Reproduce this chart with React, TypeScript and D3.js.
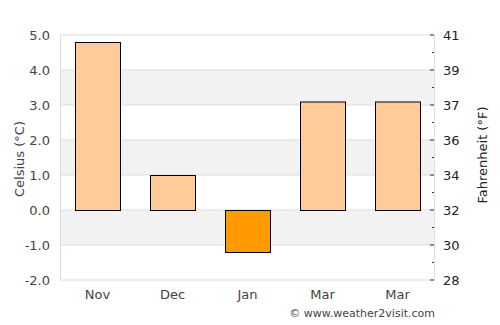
import * as d3 from 'd3'

const months = ['Nov', 'Dec', 'Jan', 'Mar', 'Mar']
const celsius = [4.8, 1.0, -1.2, 3.1, 3.1]
const barColors = ['#ffcc99', '#ffcc99', '#ff9900', '#ffcc99', '#ffcc99']
const cTicks = [-2, -1, 0, 1, 2, 3, 4, 5]
const fLabels = ['28', '30', '32', '34', '36', '37', '39', '41']
const shadedBands = [[-1, 0], [1, 2], [3, 4]]

const margin = { top: 35, right: 65, bottom: 45, left: 60 }
const width = 500
const height = 325

export default function App() {
  const innerW = width - margin.left - margin.right
  const innerH = height - margin.top - margin.bottom

  const x = d3.scaleBand<number>()
    .domain(d3.range(months.length))
    .range([0, innerW])
    .paddingInner(0.4)
    .paddingOuter(0.2)

  const y = d3.scaleLinear().domain([-2, 5]).range([innerH, 0])

  const font = 'DejaVu Sans, sans-serif'
  const minor = d3.range(-1.5, 5, 1)

  return (
    <svg width={width} height={height} style={{ position: 'absolute', left: 0, top: 0 }}>
      <rect width={width} height={height} fill="#fff" />
      <g transform={`translate(${margin.left},${margin.top})`}>
        {/* alternating bands */}
        {shadedBands.map(([a, b]) => (
          <rect key={'g' + a} x={0} width={innerW} y={y(b)} height={y(a) - y(b)} fill="#f2f2f2" />
        ))}
        {cTicks.map(t => (
          <line key={'l' + t} x1={0} x2={innerW} y1={y(t)} y2={y(t)} stroke="#dddddd" />
        ))}
        <line x1={0.5} x2={0.5} y1={0} y2={innerH} stroke="#dddddd" />
        <line x1={innerW - 0.5} x2={innerW - 0.5} y1={0} y2={innerH} stroke="#dddddd" />

        {celsius.map((v, i) => (
          <rect key={'bar' + i}
            x={x(i)! + 0.5}
            y={Math.min(y(v), y(0)) + 0.5}
            width={x.bandwidth()}
            height={Math.abs(y(v) - y(0))}
            fill={barColors[i]} stroke="#000" strokeWidth={1} />
        ))}

        {/* left axis labels */}
        {cTicks.map(t => (
          <text key={'c' + t} x={-10} y={y(t)} dy="0.35em" textAnchor="end"
            fontFamily={font} fontSize={13} fill="#444">{t.toFixed(1)}</text>
        ))}
        {/* right axis ticks and labels */}
        {cTicks.map((t, i) => (
          <g key={'f' + t}>
            <line x1={innerW - 5} x2={innerW - 1} y1={y(t)} y2={y(t)} stroke="#333" />
            <text x={innerW + 8} y={y(t)} dy="0.35em" textAnchor="start"
              fontFamily={font} fontSize={13} fill="#222">{fLabels[i]}</text>
          </g>
        ))}
        {minor.map(t => (
          <line key={'m' + t} x1={innerW - 3} x2={innerW - 1} y1={y(t)} y2={y(t)} stroke="#333" />
        ))}

        {months.map((m, i) => (
          <text key={'x' + i} x={x(i)! + x.bandwidth() / 2} y={innerH + 19} textAnchor="middle"
            fontFamily={font} fontSize={13} fill="#444">{m}</text>
        ))}

        <text transform={`translate(${-36},${124}) rotate(-90)`} textAnchor="middle"
          fontFamily={font} fontSize={13} fill="#444">Celsius (°C)</text>
        <text transform={`translate(${innerW + 51.5},${120}) rotate(-90)`} textAnchor="middle"
          fontFamily={font} fontSize={13} fill="#222">Fahrenheit (°F)</text>
        <text x={innerW} y={innerH + 37} textAnchor="end"
          fontFamily={font} fontSize={11} fill="#444">© www.weather2visit.com</text>
      </g>
    </svg>
  )
}
